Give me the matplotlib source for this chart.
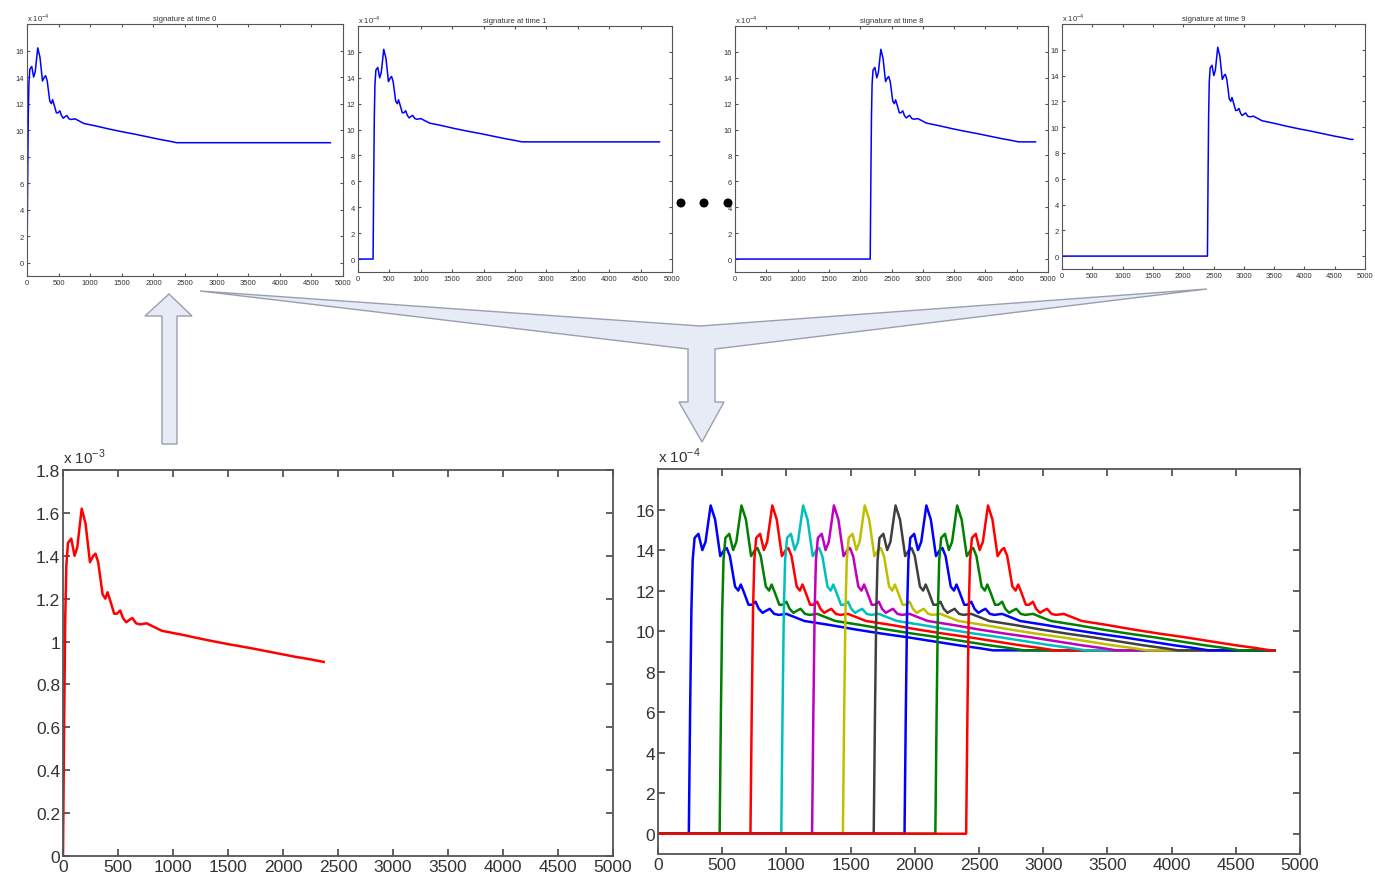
import numpy as np
import matplotlib
matplotlib.use("Agg")
import matplotlib.pyplot as plt
from matplotlib.patches import Polygon, Ellipse

plt.rcParams['font.family'] = ['Liberation Sans', 'DejaVu Sans']
plt.rcParams['mathtext.fontset'] = 'custom'
plt.rcParams['mathtext.rm'] = 'Liberation Sans'

# signature shape (time after onset, value in units of 1e-4)
shape_t = np.array([0, 10, 20, 30, 45, 75, 105, 130, 170, 205, 245, 275, 295, 320,
                    360, 385, 405, 430, 465, 490, 520, 545, 575, 600, 630, 665, 700,
                    760, 900, 1100, 1300, 1500, 1700, 1900, 2100, 2250, 2370])
shape_v = np.array([0, 6.0, 11.0, 13.5, 14.6, 14.8, 14.0, 14.4, 16.2, 15.5, 13.7, 14.0,
                    14.1, 13.7, 12.2, 12.0, 12.3, 11.9, 11.3, 11.3, 11.45, 11.1, 10.9, 11.0,
                    11.1, 10.85, 10.8, 10.85, 10.5, 10.3, 10.08, 9.88, 9.7, 9.5, 9.3,
                    9.17, 9.05])
end_t = 4800

# top row: single signatures
top_titles = ['signature at time 0', 'signature at time 1',
              'signature at time 8', 'signature at time 9']
top_onsets = [0, 240, 2160, 2400]

# bottom right: all shifted signatures
all_onsets = [240, 480, 720, 960, 1200, 1440, 1680, 1920, 2160, 2400]
all_colors = [(0, 0, 1), (0, 0.5, 0), (1, 0, 0), (0, 0.75, 0.75), (0.75, 0, 0.75),
              (0.75, 0.75, 0), (0.25, 0.25, 0.25), (0, 0, 1), (0, 0.5, 0), (1, 0, 0)]

x_ticks = np.arange(0, 5001, 500)
W, H = 1375, 879


def full_curve(onset):
    x = np.concatenate(([0, onset], onset + shape_t, [end_t]))
    y = np.concatenate(([0, 0], shape_v, [shape_v[-1]]))
    return x, y


def box(l, t, r, b):
    return [l / W, 1 - b / H, (r - l) / W, (b - t) / H]


def fpts(pts):
    return [(x / W, 1 - y / H) for x, y in pts]


def style(ax, fs, tl, lw):
    for s in ax.spines.values():
        s.set_color('#555555')
        s.set_linewidth(lw)
    ax.tick_params(direction='in', top=True, right=True, length=tl, width=lw,
                   colors='#555555', labelcolor='#333333', labelsize=fs, pad=2)


fig = plt.figure(figsize=(13.75, 8.79), dpi=100)

# arrows behind everything
funnel = [(200, 292), (700, 327), (1207, 290), (715, 350), (715, 403), (724, 403),
          (702, 443), (679, 403), (688, 403), (688, 350)]
up_arrow = [(162, 445), (177, 445), (177, 317), (192, 317), (169, 295), (145, 317), (162, 317)]
for pts in (funnel, up_arrow):
    fig.add_artist(Polygon(fpts(pts), closed=True, transform=fig.transFigure,
                           facecolor='#e6ebf6', edgecolor='#9a9fb0', linewidth=1.0, zorder=0))

for cx in (681, 704, 728):
    fig.add_artist(Ellipse((cx / W, 1 - 204 / H), 9 / W, 9 / H, transform=fig.transFigure,
                           facecolor='black', edgecolor='none', zorder=5))

top_boxes = [(27, 25, 343, 277), (358, 27, 672, 273), (735, 27, 1048, 273), (1062, 25, 1365, 270)]
for bx, title, onset in zip(top_boxes, top_titles, top_onsets):
    ax = fig.add_axes(box(*bx))
    x, y = full_curve(onset)
    ax.plot(x, y, color='blue', lw=1.1)
    ax.set_xlim(0, 5000)
    ax.set_ylim(-1, 18)
    ax.set_xticks(x_ticks)
    ax.set_yticks(np.arange(0, 17, 2))
    style(ax, 5.5, 2.5, 0.8)
    ax.set_title(title, fontsize=5.5, pad=3, color='#333333')
    ax.text(0, 1.005, r'x 10$^{-4}$', transform=ax.transAxes, fontsize=5.5,
            ha='left', va='bottom', color='#333333')

# bottom left: one signature
ax = fig.add_axes(box(63, 471, 613, 857))
ax.plot(shape_t, shape_v / 10, color='red', lw=1.8)
ax.set_xlim(0, 5000)
ax.set_ylim(0, 1.8)
ax.set_xticks(x_ticks)
ax.set_yticks(np.arange(0, 1.81, 0.2))
ax.set_yticklabels(['0', '0.2', '0.4', '0.6', '0.8', '1', '1.2', '1.4', '1.6', '1.8'])
style(ax, 12.5, 5, 1.3)
ax.text(0, 1.01, r'x 10$^{-3}$', transform=ax.transAxes, fontsize=11,
        ha='left', va='bottom', color='#333333')

# bottom right: all signatures
ax = fig.add_axes(box(658, 470, 1300, 855))
for onset, c in zip(all_onsets, all_colors):
    x, y = full_curve(onset)
    ax.plot(x, y, color=c, lw=1.8)
ax.set_xlim(0, 5000)
ax.set_ylim(-1, 18)
ax.set_xticks(x_ticks)
ax.set_yticks(np.arange(0, 17, 2))
style(ax, 12.5, 5, 1.3)
ax.text(0, 1.01, r'x 10$^{-4}$', transform=ax.transAxes, fontsize=11,
        ha='left', va='bottom', color='#333333')

fig.savefig('out.png', dpi=100)
